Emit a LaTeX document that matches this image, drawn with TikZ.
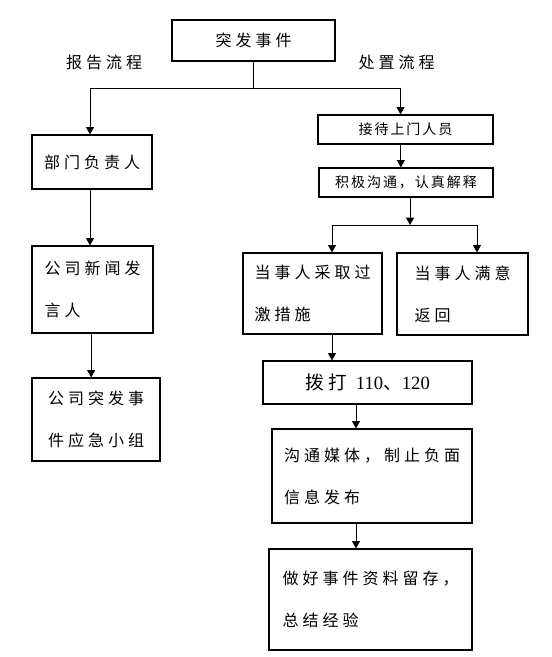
\documentclass[tikz,border=0pt]{standalone}
\usepackage{fontspec}
\setmainfont{Liberation Serif}
\newfontfamily\cjk[LetterSpace=25]{Noto Sans CJK SC}
\newfontfamily\cjksmall[LetterSpace=14]{Noto Sans CJK SC}
\usetikzlibrary{%
    arrows.meta,%
    positioning
    }
\tikzset{
  flowbox/.style={
    rectangle,
    draw=black,
    line width=0.9pt,
    align=left,
    inner sep=0pt,
    font=\cjk\fontsize{12pt}{31.5pt}\selectfont,
  },
  smallbox/.style={
    flowbox,
    align=center,
    font=\cjksmall\fontsize{10.5pt}{12pt}\selectfont,
  },
  caption2/.style={
    inner sep=0pt,
    font=\cjk\fontsize{12pt}{14pt}\selectfont,
  },
  arrow2/.style={
    -{Triangle[width=6pt,length=5.5pt]},
    line width=0.6pt,
    black,
  },
}

\begin{document}
\begin{tikzpicture}[x=0.75pt,y=-0.75pt]
\useasboundingbox (0,0) rectangle (552,657);

% top
\node[flowbox,minimum width=122.25pt,minimum height=30.75pt]
  (event) at (253.5,40.5)
  {突发事件};
\node[caption2] (report) at (104,62) {报告流程};
\node[caption2] (handle) at (396.5,62) {处置流程};

% report branch
\node[flowbox,minimum width=90pt,minimum height=40.5pt]
  (dept) at (92,162)
  {部门负责人};
\node[flowbox,minimum width=90.75pt,minimum height=65.25pt]
  (speaker) at (92.5,289.5)
  {公司新闻发\\言人};
\node[flowbox,minimum width=96pt,minimum height=62.25pt]
  (group) at (96,419.5)
  {公司突发事\\件应急小组};

% handling branch
\node[smallbox,minimum width=131.25pt,minimum height=21.75pt]
  (receive) at (405.5,129.5)
  {接待上门人员};
\node[smallbox,minimum width=130.5pt,minimum height=21.75pt]
  (explain) at (406,182.5)
  {积极沟通，认真解释};
\node[flowbox,minimum width=104.25pt,minimum height=60.75pt]
  (excess) at (312.5,293.5)
  {当事人采取过\\激措施};
\node[flowbox,minimum width=98.25pt,minimum height=61.5pt]
  (satisfied) at (462.5,294)
  {当事人满意\\返回};
\node[flowbox,minimum width=156.75pt,minimum height=32.25pt,
      font=\cjk\fontsize{14pt}{16pt}\selectfont]
  (call) at (367.5,382.5)
  {拨打 {\rmfamily 110}、{\rmfamily 120}};
\node[flowbox,minimum width=150pt,minimum height=70.5pt]
  (media) at (372,476)
  {沟通媒体，制止负面\\信息发布};
\node[flowbox,minimum width=152.25pt,minimum height=75.75pt]
  (summary) at (370.5,599.5)
  {做好事件资料留存，\\总结经验};

\coordinate (forkL) at (90,88);
\coordinate (forkR) at (400.5,88);
\coordinate (splitL) at (332,225);
\coordinate (splitR) at (477,225);
\coordinate (spine) at (356,0);

\begin{scope}[arrow2]
\draw
  (event.south) |- (forkL) -- (forkL |- dept.north);
\draw
  (event.south) |- (forkR) -- (forkR |- receive.north);
\draw
  (forkL |- dept.south) -- (forkL |- speaker.north);
\draw
  ([xshift=-1pt]speaker.south) -- ([xshift=-1pt]speaker.south |- group.north);
\draw
  ([xshift=-3.5pt]receive.south) -- ([xshift=-3.5pt]receive.south |- explain.north);
\draw
  ([xshift=3pt]explain.south) -- ([xshift=3pt]explain.south |- splitL);
\draw
  (splitL) -- (splitL |- excess.north);
\draw
  (splitR) -- (splitR |- satisfied.north);
\draw
  (splitL |- excess.south) -- (splitL |- call.north);
\draw
  (spine |- call.south) -- (spine |- media.north);
\draw
  (spine |- media.south) -- (spine |- summary.north);
\end{scope}
\draw[line width=0.6pt]
  (splitL) -- (splitR);
\end{tikzpicture}
\end{document}
